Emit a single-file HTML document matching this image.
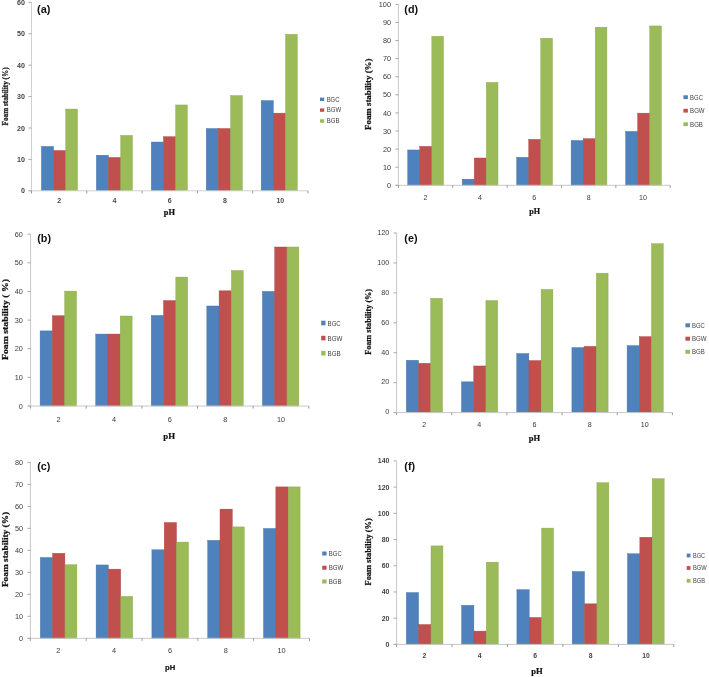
<!DOCTYPE html>
<html><head><meta charset="utf-8"><title>Foam stability vs pH</title>
<style>
html,body{margin:0;padding:0;background:#fff;}
body{width:709px;height:677px;overflow:hidden;font-family:"Liberation Sans", sans-serif;}
svg{display:block;filter:blur(0.5px);}
</style></head><body>
<svg width="709" height="677" viewBox="0 0 709 677">
<rect x="0" y="0" width="709" height="677" fill="#fff"/>
<rect x="41.4" y="146.41" width="12.12" height="44.39" fill="#4F81BD" stroke="#44709f" stroke-width="0.4"/>
<rect x="53.57" y="150.49" width="12.12" height="40.31" fill="#C0504D" stroke="#a9443f" stroke-width="0.4"/>
<rect x="65.74" y="109.05" width="11.77" height="81.75" fill="#9BBB59" stroke="#88a54c" stroke-width="0.4"/>
<rect x="96.35" y="155.2" width="12.12" height="35.6" fill="#4F81BD" stroke="#44709f" stroke-width="0.4"/>
<rect x="108.52" y="157.4" width="12.12" height="33.4" fill="#C0504D" stroke="#a9443f" stroke-width="0.4"/>
<rect x="120.69" y="135.42" width="11.77" height="55.38" fill="#9BBB59" stroke="#88a54c" stroke-width="0.4"/>
<rect x="151.3" y="142.02" width="12.12" height="48.78" fill="#4F81BD" stroke="#44709f" stroke-width="0.4"/>
<rect x="163.47" y="136.68" width="12.12" height="54.12" fill="#C0504D" stroke="#a9443f" stroke-width="0.4"/>
<rect x="175.64" y="104.96" width="11.77" height="85.84" fill="#9BBB59" stroke="#88a54c" stroke-width="0.4"/>
<rect x="206.25" y="128.51" width="12.12" height="62.29" fill="#4F81BD" stroke="#44709f" stroke-width="0.4"/>
<rect x="218.42" y="128.51" width="12.12" height="62.29" fill="#C0504D" stroke="#a9443f" stroke-width="0.4"/>
<rect x="230.59" y="95.54" width="11.77" height="95.26" fill="#9BBB59" stroke="#88a54c" stroke-width="0.4"/>
<rect x="261.2" y="100.57" width="12.12" height="90.23" fill="#4F81BD" stroke="#44709f" stroke-width="0.4"/>
<rect x="273.37" y="113.13" width="12.12" height="77.67" fill="#C0504D" stroke="#a9443f" stroke-width="0.4"/>
<rect x="285.54" y="34.31" width="11.77" height="156.49" fill="#9BBB59" stroke="#88a54c" stroke-width="0.4"/>
<line x1="31.5" y1="2.4" x2="31.5" y2="190.8" stroke="#d0d0d0" stroke-width="1"/>
<line x1="28.5" y1="190.8" x2="308" y2="190.8" stroke="#d0d0d0" stroke-width="1"/>
<line x1="28.5" y1="190.8" x2="31.5" y2="190.8" stroke="#a8a8a8" stroke-width="1"/>
<text x="25" y="193.36" font-family='"Liberation Sans", sans-serif' font-size="7.1" font-weight="bold" fill="#444" text-anchor="end">0</text>
<line x1="28.5" y1="159.4" x2="31.5" y2="159.4" stroke="#a8a8a8" stroke-width="1"/>
<text x="25" y="161.96" font-family='"Liberation Sans", sans-serif' font-size="7.1" font-weight="bold" fill="#444" text-anchor="end">10</text>
<line x1="28.5" y1="128" x2="31.5" y2="128" stroke="#a8a8a8" stroke-width="1"/>
<text x="25" y="130.56" font-family='"Liberation Sans", sans-serif' font-size="7.1" font-weight="bold" fill="#444" text-anchor="end">20</text>
<line x1="28.5" y1="96.6" x2="31.5" y2="96.6" stroke="#a8a8a8" stroke-width="1"/>
<text x="25" y="99.16" font-family='"Liberation Sans", sans-serif' font-size="7.1" font-weight="bold" fill="#444" text-anchor="end">30</text>
<line x1="28.5" y1="65.2" x2="31.5" y2="65.2" stroke="#a8a8a8" stroke-width="1"/>
<text x="25" y="67.76" font-family='"Liberation Sans", sans-serif' font-size="7.1" font-weight="bold" fill="#444" text-anchor="end">40</text>
<line x1="28.5" y1="33.8" x2="31.5" y2="33.8" stroke="#a8a8a8" stroke-width="1"/>
<text x="25" y="36.36" font-family='"Liberation Sans", sans-serif' font-size="7.1" font-weight="bold" fill="#444" text-anchor="end">50</text>
<line x1="28.5" y1="2.4" x2="31.5" y2="2.4" stroke="#a8a8a8" stroke-width="1"/>
<text x="25" y="4.96" font-family='"Liberation Sans", sans-serif' font-size="7.1" font-weight="bold" fill="#444" text-anchor="end">60</text>
<line x1="31.5" y1="190.8" x2="31.5" y2="193.4" stroke="#999" stroke-width="1"/>
<line x1="86.8" y1="190.8" x2="86.8" y2="193.4" stroke="#999" stroke-width="1"/>
<line x1="142.1" y1="190.8" x2="142.1" y2="193.4" stroke="#999" stroke-width="1"/>
<line x1="197.4" y1="190.8" x2="197.4" y2="193.4" stroke="#999" stroke-width="1"/>
<line x1="252.7" y1="190.8" x2="252.7" y2="193.4" stroke="#999" stroke-width="1"/>
<line x1="308" y1="190.8" x2="308" y2="193.4" stroke="#999" stroke-width="1"/>
<text x="59.15" y="202.92" font-family='"Liberation Sans", sans-serif' font-size="7" font-weight="bold" fill="#4a4a4a" text-anchor="middle">2</text>
<text x="114.45" y="202.92" font-family='"Liberation Sans", sans-serif' font-size="7" font-weight="bold" fill="#4a4a4a" text-anchor="middle">4</text>
<text x="169.75" y="202.92" font-family='"Liberation Sans", sans-serif' font-size="7" font-weight="bold" fill="#4a4a4a" text-anchor="middle">6</text>
<text x="225.05" y="202.92" font-family='"Liberation Sans", sans-serif' font-size="7" font-weight="bold" fill="#4a4a4a" text-anchor="middle">8</text>
<text x="280.35" y="202.92" font-family='"Liberation Sans", sans-serif' font-size="7" font-weight="bold" fill="#4a4a4a" text-anchor="middle">10</text>
<text x="37" y="13" font-family='"Liberation Sans", sans-serif' font-size="11" font-weight="bold" fill="#111">(a)</text>
<text transform="translate(7.9 96.4) rotate(-90)" x="0" y="0" font-family='"Liberation Serif", serif' font-size="9.2" font-weight="bold" fill="#111" stroke="#111" stroke-width="0.25" text-anchor="middle" textLength="58" lengthAdjust="spacingAndGlyphs">Foam stability (%)</text>
<text x="169.4" y="214.8" font-family='"Liberation Serif", serif' font-size="7.2" font-weight="bold" fill="#111" stroke="#111" stroke-width="0.2" text-anchor="middle" textLength="11.2" lengthAdjust="spacingAndGlyphs">pH</text>
<rect x="320" y="97.6" width="4.2" height="3.4" fill="#4F81BD"/>
<text x="326.7" y="101.6" font-family='"Liberation Sans", sans-serif' font-size="6.3" fill="#404040" textLength="12.8" lengthAdjust="spacingAndGlyphs">BGC</text>
<rect x="320" y="108.4" width="4.2" height="3.4" fill="#C0504D"/>
<text x="326.7" y="112.4" font-family='"Liberation Sans", sans-serif' font-size="6.3" fill="#404040" textLength="14.5" lengthAdjust="spacingAndGlyphs">BGW</text>
<rect x="320" y="119.3" width="4.2" height="3.4" fill="#9BBB59"/>
<text x="326.7" y="123.3" font-family='"Liberation Sans", sans-serif' font-size="6.3" fill="#404040" textLength="12.8" lengthAdjust="spacingAndGlyphs">BGB</text>
<rect x="40.1" y="330.89" width="12.23" height="75.11" fill="#4F81BD" stroke="#44709f" stroke-width="0.4"/>
<rect x="52.38" y="315.72" width="12.23" height="90.28" fill="#C0504D" stroke="#a9443f" stroke-width="0.4"/>
<rect x="64.66" y="291.09" width="11.88" height="114.91" fill="#9BBB59" stroke="#88a54c" stroke-width="0.4"/>
<rect x="95.67" y="334.04" width="12.23" height="71.96" fill="#4F81BD" stroke="#44709f" stroke-width="0.4"/>
<rect x="107.95" y="334.04" width="12.23" height="71.96" fill="#C0504D" stroke="#a9443f" stroke-width="0.4"/>
<rect x="120.23" y="316" width="11.88" height="90" fill="#9BBB59" stroke="#88a54c" stroke-width="0.4"/>
<rect x="151.25" y="315.43" width="12.23" height="90.57" fill="#4F81BD" stroke="#44709f" stroke-width="0.4"/>
<rect x="163.53" y="300.54" width="12.23" height="105.46" fill="#C0504D" stroke="#a9443f" stroke-width="0.4"/>
<rect x="175.81" y="277.06" width="11.88" height="128.94" fill="#9BBB59" stroke="#88a54c" stroke-width="0.4"/>
<rect x="206.83" y="305.98" width="12.23" height="100.02" fill="#4F81BD" stroke="#44709f" stroke-width="0.4"/>
<rect x="219.11" y="290.81" width="12.23" height="115.19" fill="#C0504D" stroke="#a9443f" stroke-width="0.4"/>
<rect x="231.39" y="270.48" width="11.88" height="135.52" fill="#9BBB59" stroke="#88a54c" stroke-width="0.4"/>
<rect x="262.4" y="291.38" width="12.23" height="114.62" fill="#4F81BD" stroke="#44709f" stroke-width="0.4"/>
<rect x="274.68" y="247" width="12.23" height="159" fill="#C0504D" stroke="#a9443f" stroke-width="0.4"/>
<rect x="286.96" y="247" width="11.88" height="159" fill="#9BBB59" stroke="#88a54c" stroke-width="0.4"/>
<line x1="30.6" y1="234.2" x2="30.6" y2="406" stroke="#c8c8c8" stroke-width="1"/>
<line x1="27.6" y1="406" x2="308.8" y2="406" stroke="#c8c8c8" stroke-width="1"/>
<line x1="27.6" y1="406" x2="30.6" y2="406" stroke="#a8a8a8" stroke-width="1"/>
<text x="22.8" y="408.63" font-family='"Liberation Sans", sans-serif' font-size="7.3" font-weight="normal" fill="#3a3a3a" text-anchor="end">0</text>
<line x1="27.6" y1="377.37" x2="30.6" y2="377.37" stroke="#a8a8a8" stroke-width="1"/>
<text x="22.8" y="379.99" font-family='"Liberation Sans", sans-serif' font-size="7.3" font-weight="normal" fill="#3a3a3a" text-anchor="end">10</text>
<line x1="27.6" y1="348.73" x2="30.6" y2="348.73" stroke="#a8a8a8" stroke-width="1"/>
<text x="22.8" y="351.36" font-family='"Liberation Sans", sans-serif' font-size="7.3" font-weight="normal" fill="#3a3a3a" text-anchor="end">20</text>
<line x1="27.6" y1="320.1" x2="30.6" y2="320.1" stroke="#a8a8a8" stroke-width="1"/>
<text x="22.8" y="322.73" font-family='"Liberation Sans", sans-serif' font-size="7.3" font-weight="normal" fill="#3a3a3a" text-anchor="end">30</text>
<line x1="27.6" y1="291.47" x2="30.6" y2="291.47" stroke="#a8a8a8" stroke-width="1"/>
<text x="22.8" y="294.09" font-family='"Liberation Sans", sans-serif' font-size="7.3" font-weight="normal" fill="#3a3a3a" text-anchor="end">40</text>
<line x1="27.6" y1="262.83" x2="30.6" y2="262.83" stroke="#a8a8a8" stroke-width="1"/>
<text x="22.8" y="265.46" font-family='"Liberation Sans", sans-serif' font-size="7.3" font-weight="normal" fill="#3a3a3a" text-anchor="end">50</text>
<line x1="27.6" y1="234.2" x2="30.6" y2="234.2" stroke="#a8a8a8" stroke-width="1"/>
<text x="22.8" y="236.83" font-family='"Liberation Sans", sans-serif' font-size="7.3" font-weight="normal" fill="#3a3a3a" text-anchor="end">60</text>
<line x1="30.6" y1="406" x2="30.6" y2="408.6" stroke="#999" stroke-width="1"/>
<line x1="86.24" y1="406" x2="86.24" y2="408.6" stroke="#999" stroke-width="1"/>
<line x1="141.88" y1="406" x2="141.88" y2="408.6" stroke="#999" stroke-width="1"/>
<line x1="197.52" y1="406" x2="197.52" y2="408.6" stroke="#999" stroke-width="1"/>
<line x1="253.16" y1="406" x2="253.16" y2="408.6" stroke="#999" stroke-width="1"/>
<line x1="308.8" y1="406" x2="308.8" y2="408.6" stroke="#999" stroke-width="1"/>
<text x="58.42" y="421.93" font-family='"Liberation Sans", sans-serif' font-size="7.3" font-weight="normal" fill="#3a3a3a" text-anchor="middle">2</text>
<text x="114.06" y="421.93" font-family='"Liberation Sans", sans-serif' font-size="7.3" font-weight="normal" fill="#3a3a3a" text-anchor="middle">4</text>
<text x="169.7" y="421.93" font-family='"Liberation Sans", sans-serif' font-size="7.3" font-weight="normal" fill="#3a3a3a" text-anchor="middle">6</text>
<text x="225.34" y="421.93" font-family='"Liberation Sans", sans-serif' font-size="7.3" font-weight="normal" fill="#3a3a3a" text-anchor="middle">8</text>
<text x="280.98" y="421.93" font-family='"Liberation Sans", sans-serif' font-size="7.3" font-weight="normal" fill="#3a3a3a" text-anchor="middle">10</text>
<text x="37.2" y="242.2" font-family='"Liberation Sans", sans-serif' font-size="10.8" font-weight="bold" fill="#111">(b)</text>
<text transform="translate(7.6 319.5) rotate(-90)" x="0" y="0" font-family='"Liberation Serif", serif' font-size="9.2" font-weight="bold" fill="#111" stroke="#111" stroke-width="0.25" text-anchor="middle" textLength="81.2" lengthAdjust="spacingAndGlyphs">Foam stability ( %)</text>
<text x="169.2" y="438.5" font-family='"Liberation Serif", serif' font-size="9" font-weight="bold" fill="#111" stroke="#111" stroke-width="0.2" text-anchor="middle" textLength="11.8" lengthAdjust="spacingAndGlyphs">pH</text>
<rect x="321.2" y="320.7" width="4.3" height="4.6" fill="#4F81BD"/>
<text x="327.6" y="325.66" font-family='"Liberation Sans", sans-serif' font-size="7.3" fill="#404040" textLength="13.1" lengthAdjust="spacingAndGlyphs">BGC</text>
<rect x="321.2" y="335.8" width="4.3" height="4.6" fill="#C0504D"/>
<text x="327.6" y="340.76" font-family='"Liberation Sans", sans-serif' font-size="7.3" fill="#404040" textLength="14.8" lengthAdjust="spacingAndGlyphs">BGW</text>
<rect x="321.2" y="350.9" width="4.3" height="4.6" fill="#9BBB59"/>
<text x="327.6" y="355.86" font-family='"Liberation Sans", sans-serif' font-size="7.3" fill="#404040" textLength="13.1" lengthAdjust="spacingAndGlyphs">BGB</text>
<rect x="40.3" y="557.48" width="12.28" height="80.82" fill="#4F81BD" stroke="#44709f" stroke-width="0.4"/>
<rect x="52.63" y="553.3" width="12.28" height="85" fill="#C0504D" stroke="#a9443f" stroke-width="0.4"/>
<rect x="64.96" y="564.73" width="11.93" height="73.57" fill="#9BBB59" stroke="#88a54c" stroke-width="0.4"/>
<rect x="96.1" y="564.95" width="12.28" height="73.35" fill="#4F81BD" stroke="#44709f" stroke-width="0.4"/>
<rect x="108.43" y="569.13" width="12.28" height="69.17" fill="#C0504D" stroke="#a9443f" stroke-width="0.4"/>
<rect x="120.76" y="596.39" width="11.93" height="41.91" fill="#9BBB59" stroke="#88a54c" stroke-width="0.4"/>
<rect x="151.9" y="549.78" width="12.28" height="88.52" fill="#4F81BD" stroke="#44709f" stroke-width="0.4"/>
<rect x="164.23" y="522.52" width="12.28" height="115.78" fill="#C0504D" stroke="#a9443f" stroke-width="0.4"/>
<rect x="176.56" y="542.08" width="11.93" height="96.22" fill="#9BBB59" stroke="#88a54c" stroke-width="0.4"/>
<rect x="207.7" y="540.33" width="12.28" height="97.97" fill="#4F81BD" stroke="#44709f" stroke-width="0.4"/>
<rect x="220.03" y="509.1" width="12.28" height="129.2" fill="#C0504D" stroke="#a9443f" stroke-width="0.4"/>
<rect x="232.36" y="526.91" width="11.93" height="111.39" fill="#9BBB59" stroke="#88a54c" stroke-width="0.4"/>
<rect x="263.5" y="528.45" width="12.28" height="109.85" fill="#4F81BD" stroke="#44709f" stroke-width="0.4"/>
<rect x="275.83" y="486.9" width="12.28" height="151.4" fill="#C0504D" stroke="#a9443f" stroke-width="0.4"/>
<rect x="288.16" y="486.9" width="11.93" height="151.4" fill="#9BBB59" stroke="#88a54c" stroke-width="0.4"/>
<line x1="30.4" y1="462.4" x2="30.4" y2="638.3" stroke="#c8c8c8" stroke-width="1"/>
<line x1="27.4" y1="638.3" x2="309.5" y2="638.3" stroke="#c8c8c8" stroke-width="1"/>
<line x1="27.4" y1="638.3" x2="30.4" y2="638.3" stroke="#a8a8a8" stroke-width="1"/>
<text x="23" y="640.93" font-family='"Liberation Sans", sans-serif' font-size="7.3" font-weight="normal" fill="#3a3a3a" text-anchor="end">0</text>
<line x1="27.4" y1="616.31" x2="30.4" y2="616.31" stroke="#a8a8a8" stroke-width="1"/>
<text x="23" y="618.94" font-family='"Liberation Sans", sans-serif' font-size="7.3" font-weight="normal" fill="#3a3a3a" text-anchor="end">10</text>
<line x1="27.4" y1="594.32" x2="30.4" y2="594.32" stroke="#a8a8a8" stroke-width="1"/>
<text x="23" y="596.95" font-family='"Liberation Sans", sans-serif' font-size="7.3" font-weight="normal" fill="#3a3a3a" text-anchor="end">20</text>
<line x1="27.4" y1="572.34" x2="30.4" y2="572.34" stroke="#a8a8a8" stroke-width="1"/>
<text x="23" y="574.97" font-family='"Liberation Sans", sans-serif' font-size="7.3" font-weight="normal" fill="#3a3a3a" text-anchor="end">30</text>
<line x1="27.4" y1="550.35" x2="30.4" y2="550.35" stroke="#a8a8a8" stroke-width="1"/>
<text x="23" y="552.98" font-family='"Liberation Sans", sans-serif' font-size="7.3" font-weight="normal" fill="#3a3a3a" text-anchor="end">40</text>
<line x1="27.4" y1="528.36" x2="30.4" y2="528.36" stroke="#a8a8a8" stroke-width="1"/>
<text x="23" y="530.99" font-family='"Liberation Sans", sans-serif' font-size="7.3" font-weight="normal" fill="#3a3a3a" text-anchor="end">50</text>
<line x1="27.4" y1="506.38" x2="30.4" y2="506.38" stroke="#a8a8a8" stroke-width="1"/>
<text x="23" y="509" font-family='"Liberation Sans", sans-serif' font-size="7.3" font-weight="normal" fill="#3a3a3a" text-anchor="end">60</text>
<line x1="27.4" y1="484.39" x2="30.4" y2="484.39" stroke="#a8a8a8" stroke-width="1"/>
<text x="23" y="487.02" font-family='"Liberation Sans", sans-serif' font-size="7.3" font-weight="normal" fill="#3a3a3a" text-anchor="end">70</text>
<line x1="27.4" y1="462.4" x2="30.4" y2="462.4" stroke="#a8a8a8" stroke-width="1"/>
<text x="23" y="465.03" font-family='"Liberation Sans", sans-serif' font-size="7.3" font-weight="normal" fill="#3a3a3a" text-anchor="end">80</text>
<line x1="30.4" y1="638.3" x2="30.4" y2="640.9" stroke="#999" stroke-width="1"/>
<line x1="86.22" y1="638.3" x2="86.22" y2="640.9" stroke="#999" stroke-width="1"/>
<line x1="142.04" y1="638.3" x2="142.04" y2="640.9" stroke="#999" stroke-width="1"/>
<line x1="197.86" y1="638.3" x2="197.86" y2="640.9" stroke="#999" stroke-width="1"/>
<line x1="253.68" y1="638.3" x2="253.68" y2="640.9" stroke="#999" stroke-width="1"/>
<line x1="309.5" y1="638.3" x2="309.5" y2="640.9" stroke="#999" stroke-width="1"/>
<text x="58.31" y="652.76" font-family='"Liberation Sans", sans-serif' font-size="7.4" font-weight="normal" fill="#3a3a3a" text-anchor="middle">2</text>
<text x="114.13" y="652.76" font-family='"Liberation Sans", sans-serif' font-size="7.4" font-weight="normal" fill="#3a3a3a" text-anchor="middle">4</text>
<text x="169.95" y="652.76" font-family='"Liberation Sans", sans-serif' font-size="7.4" font-weight="normal" fill="#3a3a3a" text-anchor="middle">6</text>
<text x="225.77" y="652.76" font-family='"Liberation Sans", sans-serif' font-size="7.4" font-weight="normal" fill="#3a3a3a" text-anchor="middle">8</text>
<text x="281.59" y="652.76" font-family='"Liberation Sans", sans-serif' font-size="7.4" font-weight="normal" fill="#3a3a3a" text-anchor="middle">10</text>
<text x="37.2" y="470.3" font-family='"Liberation Sans", sans-serif' font-size="10.8" font-weight="bold" fill="#111">(c)</text>
<text transform="translate(8.1 549.45) rotate(-90)" x="0" y="0" font-family='"Liberation Serif", serif' font-size="9.2" font-weight="bold" fill="#111" stroke="#111" stroke-width="0.25" text-anchor="middle" textLength="75.3" lengthAdjust="spacingAndGlyphs">Foam stability (%)</text>
<text x="170.1" y="669.6" font-family='"Liberation Sans", sans-serif' font-size="7.5" font-weight="bold" fill="#111" stroke="#111" stroke-width="0.2" text-anchor="middle" textLength="10.2" lengthAdjust="spacingAndGlyphs">pH</text>
<rect x="322.2" y="551.5" width="4.4" height="4" fill="#4F81BD"/>
<text x="328.8" y="556.16" font-family='"Liberation Sans", sans-serif' font-size="7.3" fill="#404040" textLength="12.9" lengthAdjust="spacingAndGlyphs">BGC</text>
<rect x="322.2" y="565.7" width="4.4" height="4" fill="#C0504D"/>
<text x="328.8" y="570.36" font-family='"Liberation Sans", sans-serif' font-size="7.3" fill="#404040" textLength="14.6" lengthAdjust="spacingAndGlyphs">BGW</text>
<rect x="322.2" y="579.5" width="4.4" height="4" fill="#9BBB59"/>
<text x="328.8" y="584.16" font-family='"Liberation Sans", sans-serif' font-size="7.3" fill="#404040" textLength="12.9" lengthAdjust="spacingAndGlyphs">BGB</text>
<rect x="407.7" y="149.95" width="12.02" height="35.35" fill="#4F81BD" stroke="#44709f" stroke-width="0.4"/>
<rect x="419.77" y="146.34" width="12.02" height="38.96" fill="#C0504D" stroke="#a9443f" stroke-width="0.4"/>
<rect x="431.84" y="36.26" width="11.67" height="149.04" fill="#9BBB59" stroke="#88a54c" stroke-width="0.4"/>
<rect x="462.18" y="179.17" width="12.02" height="6.13" fill="#4F81BD" stroke="#44709f" stroke-width="0.4"/>
<rect x="474.25" y="158" width="12.02" height="27.3" fill="#C0504D" stroke="#a9443f" stroke-width="0.4"/>
<rect x="486.31" y="82.39" width="11.67" height="102.91" fill="#9BBB59" stroke="#88a54c" stroke-width="0.4"/>
<rect x="516.65" y="157.28" width="12.02" height="28.02" fill="#4F81BD" stroke="#44709f" stroke-width="0.4"/>
<rect x="528.72" y="139.37" width="12.02" height="45.93" fill="#C0504D" stroke="#a9443f" stroke-width="0.4"/>
<rect x="540.79" y="38.25" width="11.67" height="147.05" fill="#9BBB59" stroke="#88a54c" stroke-width="0.4"/>
<rect x="571.12" y="140.46" width="12.02" height="44.84" fill="#4F81BD" stroke="#44709f" stroke-width="0.4"/>
<rect x="583.2" y="138.65" width="12.02" height="46.65" fill="#C0504D" stroke="#a9443f" stroke-width="0.4"/>
<rect x="595.26" y="27.21" width="11.67" height="158.09" fill="#9BBB59" stroke="#88a54c" stroke-width="0.4"/>
<rect x="625.6" y="131.41" width="12.02" height="53.89" fill="#4F81BD" stroke="#44709f" stroke-width="0.4"/>
<rect x="637.67" y="113.14" width="12.02" height="72.16" fill="#C0504D" stroke="#a9443f" stroke-width="0.4"/>
<rect x="649.74" y="25.95" width="11.67" height="159.35" fill="#9BBB59" stroke="#88a54c" stroke-width="0.4"/>
<line x1="398.4" y1="4.4" x2="398.4" y2="185.3" stroke="#c8c8c8" stroke-width="1"/>
<line x1="395.4" y1="185.3" x2="670.2" y2="185.3" stroke="#c8c8c8" stroke-width="1"/>
<line x1="395.4" y1="185.3" x2="398.4" y2="185.3" stroke="#a8a8a8" stroke-width="1"/>
<text x="391" y="187.93" font-family='"Liberation Sans", sans-serif' font-size="7.3" font-weight="normal" fill="#3a3a3a" text-anchor="end">0</text>
<line x1="395.4" y1="167.21" x2="398.4" y2="167.21" stroke="#a8a8a8" stroke-width="1"/>
<text x="391" y="169.84" font-family='"Liberation Sans", sans-serif' font-size="7.3" font-weight="normal" fill="#3a3a3a" text-anchor="end">10</text>
<line x1="395.4" y1="149.12" x2="398.4" y2="149.12" stroke="#a8a8a8" stroke-width="1"/>
<text x="391" y="151.75" font-family='"Liberation Sans", sans-serif' font-size="7.3" font-weight="normal" fill="#3a3a3a" text-anchor="end">20</text>
<line x1="395.4" y1="131.03" x2="398.4" y2="131.03" stroke="#a8a8a8" stroke-width="1"/>
<text x="391" y="133.66" font-family='"Liberation Sans", sans-serif' font-size="7.3" font-weight="normal" fill="#3a3a3a" text-anchor="end">30</text>
<line x1="395.4" y1="112.94" x2="398.4" y2="112.94" stroke="#a8a8a8" stroke-width="1"/>
<text x="391" y="115.57" font-family='"Liberation Sans", sans-serif' font-size="7.3" font-weight="normal" fill="#3a3a3a" text-anchor="end">40</text>
<line x1="395.4" y1="94.85" x2="398.4" y2="94.85" stroke="#a8a8a8" stroke-width="1"/>
<text x="391" y="97.48" font-family='"Liberation Sans", sans-serif' font-size="7.3" font-weight="normal" fill="#3a3a3a" text-anchor="end">50</text>
<line x1="395.4" y1="76.76" x2="398.4" y2="76.76" stroke="#a8a8a8" stroke-width="1"/>
<text x="391" y="79.39" font-family='"Liberation Sans", sans-serif' font-size="7.3" font-weight="normal" fill="#3a3a3a" text-anchor="end">60</text>
<line x1="395.4" y1="58.67" x2="398.4" y2="58.67" stroke="#a8a8a8" stroke-width="1"/>
<text x="391" y="61.3" font-family='"Liberation Sans", sans-serif' font-size="7.3" font-weight="normal" fill="#3a3a3a" text-anchor="end">70</text>
<line x1="395.4" y1="40.58" x2="398.4" y2="40.58" stroke="#a8a8a8" stroke-width="1"/>
<text x="391" y="43.21" font-family='"Liberation Sans", sans-serif' font-size="7.3" font-weight="normal" fill="#3a3a3a" text-anchor="end">80</text>
<line x1="395.4" y1="22.49" x2="398.4" y2="22.49" stroke="#a8a8a8" stroke-width="1"/>
<text x="391" y="25.12" font-family='"Liberation Sans", sans-serif' font-size="7.3" font-weight="normal" fill="#3a3a3a" text-anchor="end">90</text>
<line x1="395.4" y1="4.4" x2="398.4" y2="4.4" stroke="#a8a8a8" stroke-width="1"/>
<text x="391" y="7.03" font-family='"Liberation Sans", sans-serif' font-size="7.3" font-weight="normal" fill="#3a3a3a" text-anchor="end">100</text>
<line x1="398.4" y1="185.3" x2="398.4" y2="187.9" stroke="#999" stroke-width="1"/>
<line x1="452.76" y1="185.3" x2="452.76" y2="187.9" stroke="#999" stroke-width="1"/>
<line x1="507.12" y1="185.3" x2="507.12" y2="187.9" stroke="#999" stroke-width="1"/>
<line x1="561.48" y1="185.3" x2="561.48" y2="187.9" stroke="#999" stroke-width="1"/>
<line x1="615.84" y1="185.3" x2="615.84" y2="187.9" stroke="#999" stroke-width="1"/>
<line x1="670.2" y1="185.3" x2="670.2" y2="187.9" stroke="#999" stroke-width="1"/>
<text x="425.58" y="199.76" font-family='"Liberation Sans", sans-serif' font-size="7.1" font-weight="normal" fill="#3a3a3a" text-anchor="middle">2</text>
<text x="479.94" y="199.76" font-family='"Liberation Sans", sans-serif' font-size="7.1" font-weight="normal" fill="#3a3a3a" text-anchor="middle">4</text>
<text x="534.3" y="199.76" font-family='"Liberation Sans", sans-serif' font-size="7.1" font-weight="normal" fill="#3a3a3a" text-anchor="middle">6</text>
<text x="588.66" y="199.76" font-family='"Liberation Sans", sans-serif' font-size="7.1" font-weight="normal" fill="#3a3a3a" text-anchor="middle">8</text>
<text x="643.02" y="199.76" font-family='"Liberation Sans", sans-serif' font-size="7.1" font-weight="normal" fill="#3a3a3a" text-anchor="middle">10</text>
<text x="404.3" y="13.4" font-family='"Liberation Sans", sans-serif' font-size="10.8" font-weight="bold" fill="#111">(d)</text>
<text transform="translate(370.6 94.25) rotate(-90)" x="0" y="0" font-family='"Liberation Serif", serif' font-size="9.2" font-weight="bold" fill="#111" stroke="#111" stroke-width="0.25" text-anchor="middle" textLength="71.3" lengthAdjust="spacingAndGlyphs">Foam stability (%)</text>
<text x="534.6" y="214.4" font-family='"Liberation Serif", serif' font-size="7.8" font-weight="bold" fill="#111" stroke="#111" stroke-width="0.2" text-anchor="middle" textLength="10.8" lengthAdjust="spacingAndGlyphs">pH</text>
<rect x="683.4" y="95.3" width="4.5" height="3.8" fill="#4F81BD"/>
<text x="690.1" y="99.75" font-family='"Liberation Sans", sans-serif' font-size="7" fill="#404040" textLength="12.8" lengthAdjust="spacingAndGlyphs">BGC</text>
<rect x="683.4" y="108.8" width="4.5" height="3.8" fill="#C0504D"/>
<text x="690.1" y="113.25" font-family='"Liberation Sans", sans-serif' font-size="7" fill="#404040" textLength="14.5" lengthAdjust="spacingAndGlyphs">BGW</text>
<rect x="683.4" y="122.3" width="4.5" height="3.8" fill="#9BBB59"/>
<text x="690.1" y="126.75" font-family='"Liberation Sans", sans-serif' font-size="7" fill="#404040" textLength="12.8" lengthAdjust="spacingAndGlyphs">BGB</text>
<rect x="406.3" y="360.27" width="12.15" height="52.33" fill="#4F81BD" stroke="#44709f" stroke-width="0.4"/>
<rect x="418.5" y="363.26" width="12.15" height="49.34" fill="#C0504D" stroke="#a9443f" stroke-width="0.4"/>
<rect x="430.7" y="298.31" width="11.8" height="114.3" fill="#9BBB59" stroke="#88a54c" stroke-width="0.4"/>
<rect x="461.5" y="381.82" width="12.15" height="30.78" fill="#4F81BD" stroke="#44709f" stroke-width="0.4"/>
<rect x="473.7" y="365.95" width="12.15" height="46.65" fill="#C0504D" stroke="#a9443f" stroke-width="0.4"/>
<rect x="485.9" y="300.55" width="11.8" height="112.05" fill="#9BBB59" stroke="#88a54c" stroke-width="0.4"/>
<rect x="516.7" y="353.53" width="12.15" height="59.07" fill="#4F81BD" stroke="#44709f" stroke-width="0.4"/>
<rect x="528.9" y="360.57" width="12.15" height="52.03" fill="#C0504D" stroke="#a9443f" stroke-width="0.4"/>
<rect x="541.1" y="289.47" width="11.8" height="123.13" fill="#9BBB59" stroke="#88a54c" stroke-width="0.4"/>
<rect x="571.9" y="347.55" width="12.15" height="65.05" fill="#4F81BD" stroke="#44709f" stroke-width="0.4"/>
<rect x="584.1" y="346.35" width="12.15" height="66.25" fill="#C0504D" stroke="#a9443f" stroke-width="0.4"/>
<rect x="596.3" y="273.16" width="11.8" height="139.44" fill="#9BBB59" stroke="#88a54c" stroke-width="0.4"/>
<rect x="627.1" y="345.6" width="12.15" height="67" fill="#4F81BD" stroke="#44709f" stroke-width="0.4"/>
<rect x="639.3" y="336.62" width="12.15" height="75.98" fill="#C0504D" stroke="#a9443f" stroke-width="0.4"/>
<rect x="651.5" y="243.68" width="11.8" height="168.92" fill="#9BBB59" stroke="#88a54c" stroke-width="0.4"/>
<line x1="396.6" y1="233" x2="396.6" y2="412.6" stroke="#c8c8c8" stroke-width="1"/>
<line x1="393.6" y1="412.6" x2="672.4" y2="412.6" stroke="#c8c8c8" stroke-width="1"/>
<line x1="393.6" y1="412.6" x2="396.6" y2="412.6" stroke="#a8a8a8" stroke-width="1"/>
<text x="389.2" y="414.39" font-family='"Liberation Sans", sans-serif' font-size="7.2" font-weight="normal" fill="#3a3a3a" text-anchor="end">0</text>
<line x1="393.6" y1="382.67" x2="396.6" y2="382.67" stroke="#a8a8a8" stroke-width="1"/>
<text x="389.2" y="384.46" font-family='"Liberation Sans", sans-serif' font-size="7.2" font-weight="normal" fill="#3a3a3a" text-anchor="end">20</text>
<line x1="393.6" y1="352.73" x2="396.6" y2="352.73" stroke="#a8a8a8" stroke-width="1"/>
<text x="389.2" y="354.53" font-family='"Liberation Sans", sans-serif' font-size="7.2" font-weight="normal" fill="#3a3a3a" text-anchor="end">40</text>
<line x1="393.6" y1="322.8" x2="396.6" y2="322.8" stroke="#a8a8a8" stroke-width="1"/>
<text x="389.2" y="324.59" font-family='"Liberation Sans", sans-serif' font-size="7.2" font-weight="normal" fill="#3a3a3a" text-anchor="end">60</text>
<line x1="393.6" y1="292.87" x2="396.6" y2="292.87" stroke="#a8a8a8" stroke-width="1"/>
<text x="389.2" y="294.66" font-family='"Liberation Sans", sans-serif' font-size="7.2" font-weight="normal" fill="#3a3a3a" text-anchor="end">80</text>
<line x1="393.6" y1="262.93" x2="396.6" y2="262.93" stroke="#a8a8a8" stroke-width="1"/>
<text x="389.2" y="264.73" font-family='"Liberation Sans", sans-serif' font-size="7.2" font-weight="normal" fill="#3a3a3a" text-anchor="end">100</text>
<line x1="393.6" y1="233" x2="396.6" y2="233" stroke="#a8a8a8" stroke-width="1"/>
<text x="389.2" y="234.79" font-family='"Liberation Sans", sans-serif' font-size="7.2" font-weight="normal" fill="#3a3a3a" text-anchor="end">120</text>
<line x1="396.6" y1="412.6" x2="396.6" y2="415.2" stroke="#999" stroke-width="1"/>
<line x1="451.76" y1="412.6" x2="451.76" y2="415.2" stroke="#999" stroke-width="1"/>
<line x1="506.92" y1="412.6" x2="506.92" y2="415.2" stroke="#999" stroke-width="1"/>
<line x1="562.08" y1="412.6" x2="562.08" y2="415.2" stroke="#999" stroke-width="1"/>
<line x1="617.24" y1="412.6" x2="617.24" y2="415.2" stroke="#999" stroke-width="1"/>
<line x1="672.4" y1="412.6" x2="672.4" y2="415.2" stroke="#999" stroke-width="1"/>
<text x="424.18" y="426.56" font-family='"Liberation Sans", sans-serif' font-size="7.1" font-weight="normal" fill="#3a3a3a" text-anchor="middle">2</text>
<text x="479.34" y="426.56" font-family='"Liberation Sans", sans-serif' font-size="7.1" font-weight="normal" fill="#3a3a3a" text-anchor="middle">4</text>
<text x="534.5" y="426.56" font-family='"Liberation Sans", sans-serif' font-size="7.1" font-weight="normal" fill="#3a3a3a" text-anchor="middle">6</text>
<text x="589.66" y="426.56" font-family='"Liberation Sans", sans-serif' font-size="7.1" font-weight="normal" fill="#3a3a3a" text-anchor="middle">8</text>
<text x="644.82" y="426.56" font-family='"Liberation Sans", sans-serif' font-size="7.1" font-weight="normal" fill="#3a3a3a" text-anchor="middle">10</text>
<text x="404.3" y="242.2" font-family='"Liberation Sans", sans-serif' font-size="10.8" font-weight="bold" fill="#111">(e)</text>
<text transform="translate(371.1 321.9) rotate(-90)" x="0" y="0" font-family='"Liberation Serif", serif' font-size="9.2" font-weight="bold" fill="#111" stroke="#111" stroke-width="0.25" text-anchor="middle" textLength="65.8" lengthAdjust="spacingAndGlyphs">Foam stability (%)</text>
<text x="534.4" y="441.3" font-family='"Liberation Serif", serif' font-size="8.6" font-weight="bold" fill="#111" stroke="#111" stroke-width="0.2" text-anchor="middle" textLength="11.4" lengthAdjust="spacingAndGlyphs">pH</text>
<rect x="685.4" y="323.3" width="4.6" height="4" fill="#4F81BD"/>
<text x="692" y="327.86" font-family='"Liberation Sans", sans-serif' font-size="7" fill="#404040" textLength="12.8" lengthAdjust="spacingAndGlyphs">BGC</text>
<rect x="685.4" y="336.7" width="4.6" height="4" fill="#C0504D"/>
<text x="692" y="341.25" font-family='"Liberation Sans", sans-serif' font-size="7" fill="#404040" textLength="14.5" lengthAdjust="spacingAndGlyphs">BGW</text>
<rect x="685.4" y="349.8" width="4.6" height="4" fill="#9BBB59"/>
<text x="692" y="354.36" font-family='"Liberation Sans", sans-serif' font-size="7" fill="#404040" textLength="12.8" lengthAdjust="spacingAndGlyphs">BGB</text>
<rect x="406.3" y="592.56" width="12.3" height="51.84" fill="#4F81BD" stroke="#44709f" stroke-width="0.4"/>
<rect x="418.65" y="624.55" width="12.3" height="19.85" fill="#C0504D" stroke="#a9443f" stroke-width="0.4"/>
<rect x="431" y="545.9" width="11.95" height="98.5" fill="#9BBB59" stroke="#88a54c" stroke-width="0.4"/>
<rect x="461.6" y="605.28" width="12.3" height="39.12" fill="#4F81BD" stroke="#44709f" stroke-width="0.4"/>
<rect x="473.95" y="631.1" width="12.3" height="13.3" fill="#C0504D" stroke="#a9443f" stroke-width="0.4"/>
<rect x="486.3" y="562.16" width="11.95" height="82.24" fill="#9BBB59" stroke="#88a54c" stroke-width="0.4"/>
<rect x="516.9" y="589.68" width="12.3" height="54.72" fill="#4F81BD" stroke="#44709f" stroke-width="0.4"/>
<rect x="529.25" y="617.47" width="12.3" height="26.93" fill="#C0504D" stroke="#a9443f" stroke-width="0.4"/>
<rect x="541.6" y="528.08" width="11.95" height="116.32" fill="#9BBB59" stroke="#88a54c" stroke-width="0.4"/>
<rect x="572.2" y="571.46" width="12.3" height="72.94" fill="#4F81BD" stroke="#44709f" stroke-width="0.4"/>
<rect x="584.55" y="603.84" width="12.3" height="40.56" fill="#C0504D" stroke="#a9443f" stroke-width="0.4"/>
<rect x="596.9" y="482.73" width="11.95" height="161.67" fill="#9BBB59" stroke="#88a54c" stroke-width="0.4"/>
<rect x="627.5" y="553.77" width="12.3" height="90.63" fill="#4F81BD" stroke="#44709f" stroke-width="0.4"/>
<rect x="639.85" y="537.25" width="12.3" height="107.15" fill="#C0504D" stroke="#a9443f" stroke-width="0.4"/>
<rect x="652.2" y="478.66" width="11.95" height="165.74" fill="#9BBB59" stroke="#88a54c" stroke-width="0.4"/>
<line x1="396.6" y1="460.9" x2="396.6" y2="644.4" stroke="#c8c8c8" stroke-width="1"/>
<line x1="393.6" y1="644.4" x2="673.8" y2="644.4" stroke="#c8c8c8" stroke-width="1"/>
<line x1="393.6" y1="644.4" x2="396.6" y2="644.4" stroke="#a8a8a8" stroke-width="1"/>
<text x="389.5" y="646.92" font-family='"Liberation Sans", sans-serif' font-size="7" font-weight="bold" fill="#444" text-anchor="end">0</text>
<line x1="393.6" y1="618.19" x2="396.6" y2="618.19" stroke="#a8a8a8" stroke-width="1"/>
<text x="389.5" y="620.71" font-family='"Liberation Sans", sans-serif' font-size="7" font-weight="bold" fill="#444" text-anchor="end">20</text>
<line x1="393.6" y1="591.97" x2="396.6" y2="591.97" stroke="#a8a8a8" stroke-width="1"/>
<text x="389.5" y="594.49" font-family='"Liberation Sans", sans-serif' font-size="7" font-weight="bold" fill="#444" text-anchor="end">40</text>
<line x1="393.6" y1="565.76" x2="396.6" y2="565.76" stroke="#a8a8a8" stroke-width="1"/>
<text x="389.5" y="568.28" font-family='"Liberation Sans", sans-serif' font-size="7" font-weight="bold" fill="#444" text-anchor="end">60</text>
<line x1="393.6" y1="539.54" x2="396.6" y2="539.54" stroke="#a8a8a8" stroke-width="1"/>
<text x="389.5" y="542.06" font-family='"Liberation Sans", sans-serif' font-size="7" font-weight="bold" fill="#444" text-anchor="end">80</text>
<line x1="393.6" y1="513.33" x2="396.6" y2="513.33" stroke="#a8a8a8" stroke-width="1"/>
<text x="389.5" y="515.85" font-family='"Liberation Sans", sans-serif' font-size="7" font-weight="bold" fill="#444" text-anchor="end">100</text>
<line x1="393.6" y1="487.11" x2="396.6" y2="487.11" stroke="#a8a8a8" stroke-width="1"/>
<text x="389.5" y="489.63" font-family='"Liberation Sans", sans-serif' font-size="7" font-weight="bold" fill="#444" text-anchor="end">120</text>
<line x1="393.6" y1="460.9" x2="396.6" y2="460.9" stroke="#a8a8a8" stroke-width="1"/>
<text x="389.5" y="463.42" font-family='"Liberation Sans", sans-serif' font-size="7" font-weight="bold" fill="#444" text-anchor="end">140</text>
<line x1="396.6" y1="644.4" x2="396.6" y2="647" stroke="#999" stroke-width="1"/>
<line x1="452.04" y1="644.4" x2="452.04" y2="647" stroke="#999" stroke-width="1"/>
<line x1="507.48" y1="644.4" x2="507.48" y2="647" stroke="#999" stroke-width="1"/>
<line x1="562.92" y1="644.4" x2="562.92" y2="647" stroke="#999" stroke-width="1"/>
<line x1="618.36" y1="644.4" x2="618.36" y2="647" stroke="#999" stroke-width="1"/>
<line x1="673.8" y1="644.4" x2="673.8" y2="647" stroke="#999" stroke-width="1"/>
<text x="424.32" y="657.55" font-family='"Liberation Sans", sans-serif' font-size="6.8" font-weight="bold" fill="#444" text-anchor="middle">2</text>
<text x="479.76" y="657.55" font-family='"Liberation Sans", sans-serif' font-size="6.8" font-weight="bold" fill="#444" text-anchor="middle">4</text>
<text x="535.2" y="657.55" font-family='"Liberation Sans", sans-serif' font-size="6.8" font-weight="bold" fill="#444" text-anchor="middle">6</text>
<text x="590.64" y="657.55" font-family='"Liberation Sans", sans-serif' font-size="6.8" font-weight="bold" fill="#444" text-anchor="middle">8</text>
<text x="646.08" y="657.55" font-family='"Liberation Sans", sans-serif' font-size="6.8" font-weight="bold" fill="#444" text-anchor="middle">10</text>
<text x="404.3" y="470.3" font-family='"Liberation Sans", sans-serif' font-size="10.8" font-weight="bold" fill="#111">(f)</text>
<text transform="translate(370.5 551.85) rotate(-90)" x="0" y="0" font-family='"Liberation Serif", serif' font-size="9.2" font-weight="bold" fill="#111" stroke="#111" stroke-width="0.25" text-anchor="middle" textLength="67.1" lengthAdjust="spacingAndGlyphs">Foam stability (%)</text>
<text x="537" y="674.4" font-family='"Liberation Serif", serif' font-size="8.4" font-weight="bold" fill="#111" stroke="#111" stroke-width="0.2" text-anchor="middle" textLength="11.5" lengthAdjust="spacingAndGlyphs">pH</text>
<rect x="686.7" y="553.6" width="3.8" height="3.8" fill="#4F81BD"/>
<text x="693" y="557.98" font-family='"Liberation Sans", sans-serif' font-size="6.8" fill="#404040" textLength="12" lengthAdjust="spacingAndGlyphs">BGC</text>
<rect x="686.7" y="566.1" width="3.8" height="3.8" fill="#C0504D"/>
<text x="693" y="570.48" font-family='"Liberation Sans", sans-serif' font-size="6.8" fill="#404040" textLength="13.8" lengthAdjust="spacingAndGlyphs">BGW</text>
<rect x="686.7" y="578.9" width="3.8" height="3.8" fill="#9BBB59"/>
<text x="693" y="583.28" font-family='"Liberation Sans", sans-serif' font-size="6.8" fill="#404040" textLength="12" lengthAdjust="spacingAndGlyphs">BGB</text>
</svg>
</body></html>
